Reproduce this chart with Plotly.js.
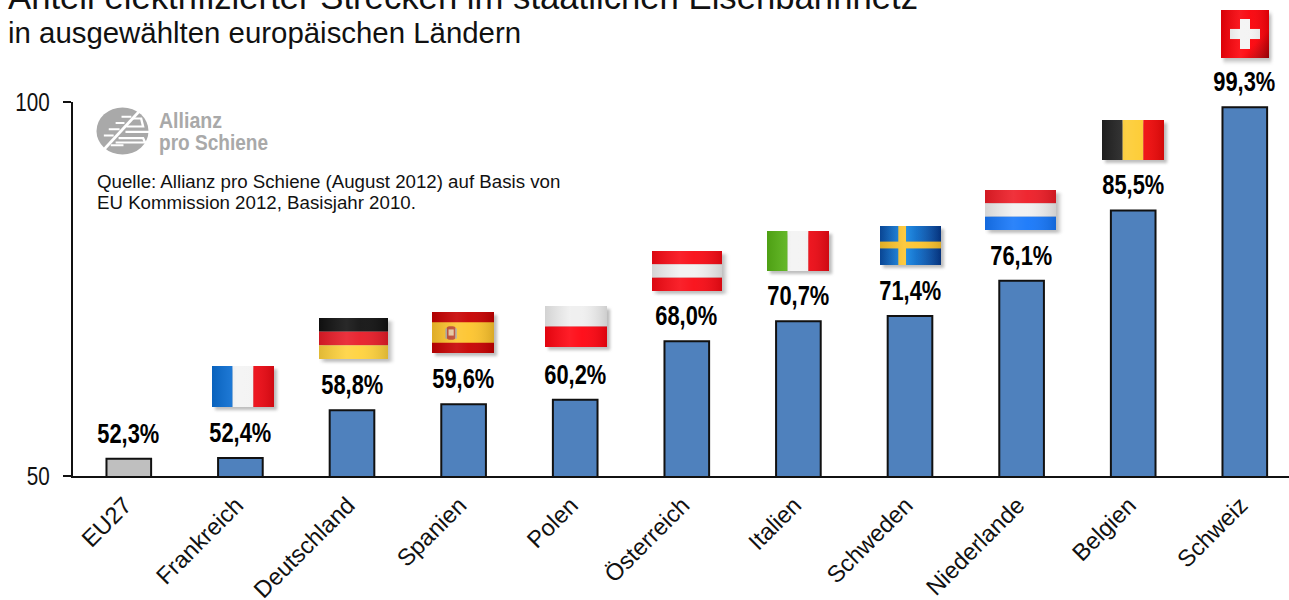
<!DOCTYPE html>
<html><head><meta charset="utf-8">
<script src="https://cdn.plot.ly/plotly-3.0.1.min.js"></script>
<style>html,body{margin:0;padding:0;background:#fff}#c{width:1289px;height:600px}</style>
</head><body><div id="c"></div>
<script>
const categories = ["EU27","Frankreich","Deutschland","Spanien","Polen","Österreich","Italien","Schweden","Niederlande","Belgien","Schweiz"];
const values = [52.3,52.4,58.8,59.6,60.2,68.0,70.7,71.4,76.1,85.5,99.3];
const valueLabels = ["52,3%","52,4%","58,8%","59,6%","60,2%","68,0%","70,7%","71,4%","76,1%","85,5%","99,3%"];
const yTicks = [50,100];
const titleLine1 = "Anteil elektrifizierter Strecken im staatlichen Eisenbahnnetz";
const titleLine2 = "in ausgewählten europäischen Ländern";
const sourceLine1 = "Quelle: Allianz pro Schiene (August 2012) auf Basis von";
const sourceLine2 = "EU Kommission 2012, Basisjahr 2010.";
const logoLine1 = "Allianz";
const logoLine2 = "pro Schiene";

const W=1289,H=600,L=73,T=102,B=124;
const SANS='"Liberation Sans",Arial,sans-serif';
const plotW=W-L, plotH=H-T-B;
const paperX=x=>(x-L)/plotW, paperY=y=>(H-B-y)/plotH;

function stripesH(cols){const h=40/cols.length;return cols.map((c,i)=>`<rect x="0" y="${i*h}" width="60" height="${h}" fill="${c}"/>`).join('');}
function stripesV(cols){const w=60/cols.length;return cols.map((c,i)=>`<rect x="${i*w}" y="0" width="${w}" height="40" fill="${c}"/>`).join('');}
const gloss='<linearGradient id="g" x1="0" y1="0" x2="1" y2="0"><stop offset="0" stop-color="#000" stop-opacity=".12"/><stop offset=".4" stop-color="#fff" stop-opacity=".1"/><stop offset=".6" stop-color="#fff" stop-opacity=".05"/><stop offset="1" stop-color="#000" stop-opacity=".14"/></linearGradient>';
function flagSvg(body,w=60,h=40){
 return 'data:image/svg+xml;utf8,'+encodeURIComponent(`<svg xmlns="http://www.w3.org/2000/svg" width="${w+8}" height="${h+8}" viewBox="0 0 ${w+8} ${h+8}"><defs><filter id="s" x="-20%" y="-20%" width="140%" height="140%"><feGaussianBlur stdDeviation="1.8"/></filter>${gloss}<linearGradient id="se" x1="0" y1="0" x2="1" y2="0"><stop offset="0" stop-color="#0a4fa8"/><stop offset=".4" stop-color="#0f86e6"/><stop offset="1" stop-color="#053a90"/></linearGradient><linearGradient id="ch" x1="0" y1="0" x2="1" y2="1"><stop offset="0" stop-color="#f40008"/><stop offset=".7" stop-color="#ff0008"/><stop offset="1" stop-color="#a80006"/></linearGradient></defs><rect x="3" y="3" width="${w}" height="${h}" fill="#888" opacity=".55" filter="url(#s)"/><g>${body}<rect width="${w}" height="${h}" fill="url(#g)"/></g></svg>`);
}
const flags=[
 [212,366,62,41,stripesV(["#0a6fd6","#f3f3f3","#f00a14"])],
 [319,318,69,41,stripesH(["#111","#e81c28","#ffd23c"])],
 [432,312,62,41,`<rect width="60" height="40" fill="#c70000"/><rect y="10" width="60" height="20" fill="#fdc42c"/><rect x="14" y="14" width="9" height="13" rx="3" fill="#c0492f"/><rect x="16" y="17" width="5" height="6" fill="#e9c9a0"/><rect x="13" y="16" width="1.5" height="10" fill="#a9a9a9"/><rect x="22.5" y="16" width="1.5" height="10" fill="#a9a9a9"/>`],
 [545,306,62,41,stripesH(["#efefef","#ff0410"])],
 [652,251,70,40,stripesH(["#f90a14","#f1f1f1","#f90a14"])],
 [767,231,62,40,stripesV(["#58b516","#f3f3f3","#f00a14"])],
 [880,226,61,39,`<rect width="60" height="40" fill="url(#se)"/><rect x="18" width="7.6" height="40" fill="#fdc42c"/><rect y="16" width="60" height="7" fill="#fdc42c"/>`],
 [985,190,71,40,stripesH(["#ee1c26","#f1f1f1","#1677fa"])],
 [1102,120,62,40,stripesV(["#222","#fdcb30","#f40a0a"])],
 [1221,10,48,48,`<rect width="60" height="40" fill="url(#ch)"/><rect x="23.75" y="7.5" width="12.5" height="25" fill="#f3f3f3"/><rect x="11.25" y="15.8" width="37.5" height="8.4" fill="#f3f3f3"/>`]
];
const images=flags.map(([x,y,w,h,b])=>{
 const sx=w/60, sy=h/40;
 return {source:flagSvg(b),xref:'paper',yref:'paper',x:paperX(x),y:paperY(y),sizex:(w+8*sx)/plotW,sizey:(h+8*sy)/plotH,sizing:'stretch',xanchor:'left',yanchor:'top',layer:'above'};
});
const logo='data:image/svg+xml;utf8,'+encodeURIComponent(`<svg xmlns="http://www.w3.org/2000/svg" width="54" height="54" viewBox="0 0 54 54"><circle cx="27" cy="27" r="26.5" fill="#a9a9a9"/><g stroke="#fff" fill="none"><path stroke-width="3" d="M7 49 L44 5"/><path stroke-width="2.4" d="M26 11 H36 M20 18 H29 M13 25 H24 M8 32 H18 M37 13 H46 L48 22 H31 M30 28 L54 28 M23 35 H48 L50 40 H20 M15 43 H28"/></g></svg>`);
images.push({source:logo,xref:'paper',yref:'paper',x:paperX(96),y:paperY(107),sizex:53/plotW,sizey:48/plotH,sizing:'stretch',xanchor:'left',yanchor:'top',layer:'above'});

const annotations=values.map((v,i)=>({x:i,y:v,xref:'x',yref:'y',text:valueLabels[i],showarrow:false,yanchor:'bottom',xanchor:'center',yshift:8,
 font:{family:SANS,size:27,color:'#000',weight:700}}));
const note=(text,x,y,size,color,weight)=>({xref:'paper',yref:'paper',x:paperX(x),y:paperY(y),xanchor:'left',yanchor:'top',align:'left',showarrow:false,text,borderpad:0,
 font:{family:SANS,size,color,weight}});
annotations.push(note(sourceLine1,96,170,18.7,'#111',400));
annotations.push(note(sourceLine2,96,191,18.7,'#111',400));
annotations.push(note(logoLine1,158,107,22,'#a9a9a9',700));
annotations.push(note(logoLine2,158,129,22,'#a9a9a9',700));

const gd=document.getElementById('c');
Plotly.newPlot(gd,[{type:'bar',x:categories.map((_,i)=>i),y:values,width:0.4,
  marker:{color:categories.map(c=>c==="EU27"?"#BFBFBF":"#4F81BD"),line:{color:'#111',width:2}},hoverinfo:'x+y'}],
 {width:W,height:H,showlegend:false,paper_bgcolor:'#fff',plot_bgcolor:'#fff',
  margin:{l:L,r:0,t:T,b:B,pad:0},
  title:{text:`<span style="font-size:34.7px">${titleLine1}</span><br><span style="font-size:29.4px">${titleLine2}</span>`,x:8/W,xanchor:'left',xref:'container',yref:'container',y:1-9/H,yanchor:'bottom',font:{family:SANS,size:26,color:'#111'}},
  xaxis:{range:[-0.5,(W-L)/111.6-0.5],tickmode:'array',tickvals:categories.map((_,i)=>i),ticktext:categories,tickangle:-45,ticks:'',showgrid:false,zeroline:false,showline:true,linecolor:'#111',linewidth:2,ticklabelshift:-4,ticklabelstandoff:4,tickfont:{family:SANS,size:23.6,color:'#111'}},
  yaxis:{range:[50,100],tickmode:'array',tickvals:yTicks,ticktext:yTicks.map(String),ticks:'outside',ticklen:8,tickwidth:2,tickcolor:'#111',showgrid:false,zeroline:false,showline:true,linecolor:'#111',linewidth:2,ticklabelstandoff:8,tickfont:{family:SANS,size:26,color:'#111'}},
  images,annotations},{displayModeBar:false}).then(()=>{
   // the reference uses a condensed face: narrow the real text to its measured width
   const squeeze=(el,len)=>{el.setAttribute('textLength',len);el.setAttribute('lengthAdjust','spacingAndGlyphs');};
   gd.querySelectorAll('.annotation-text').forEach(t=>{
     if(valueLabels.includes(t.textContent)) squeeze(t,62);
     if(t.textContent===logoLine1) squeeze(t,63);
     if(t.textContent===logoLine2) squeeze(t,109);
   });
   gd.querySelectorAll('.ytick text').forEach(t=>squeeze(t,t.textContent.length*11.5));
  });
</script></body></html>
